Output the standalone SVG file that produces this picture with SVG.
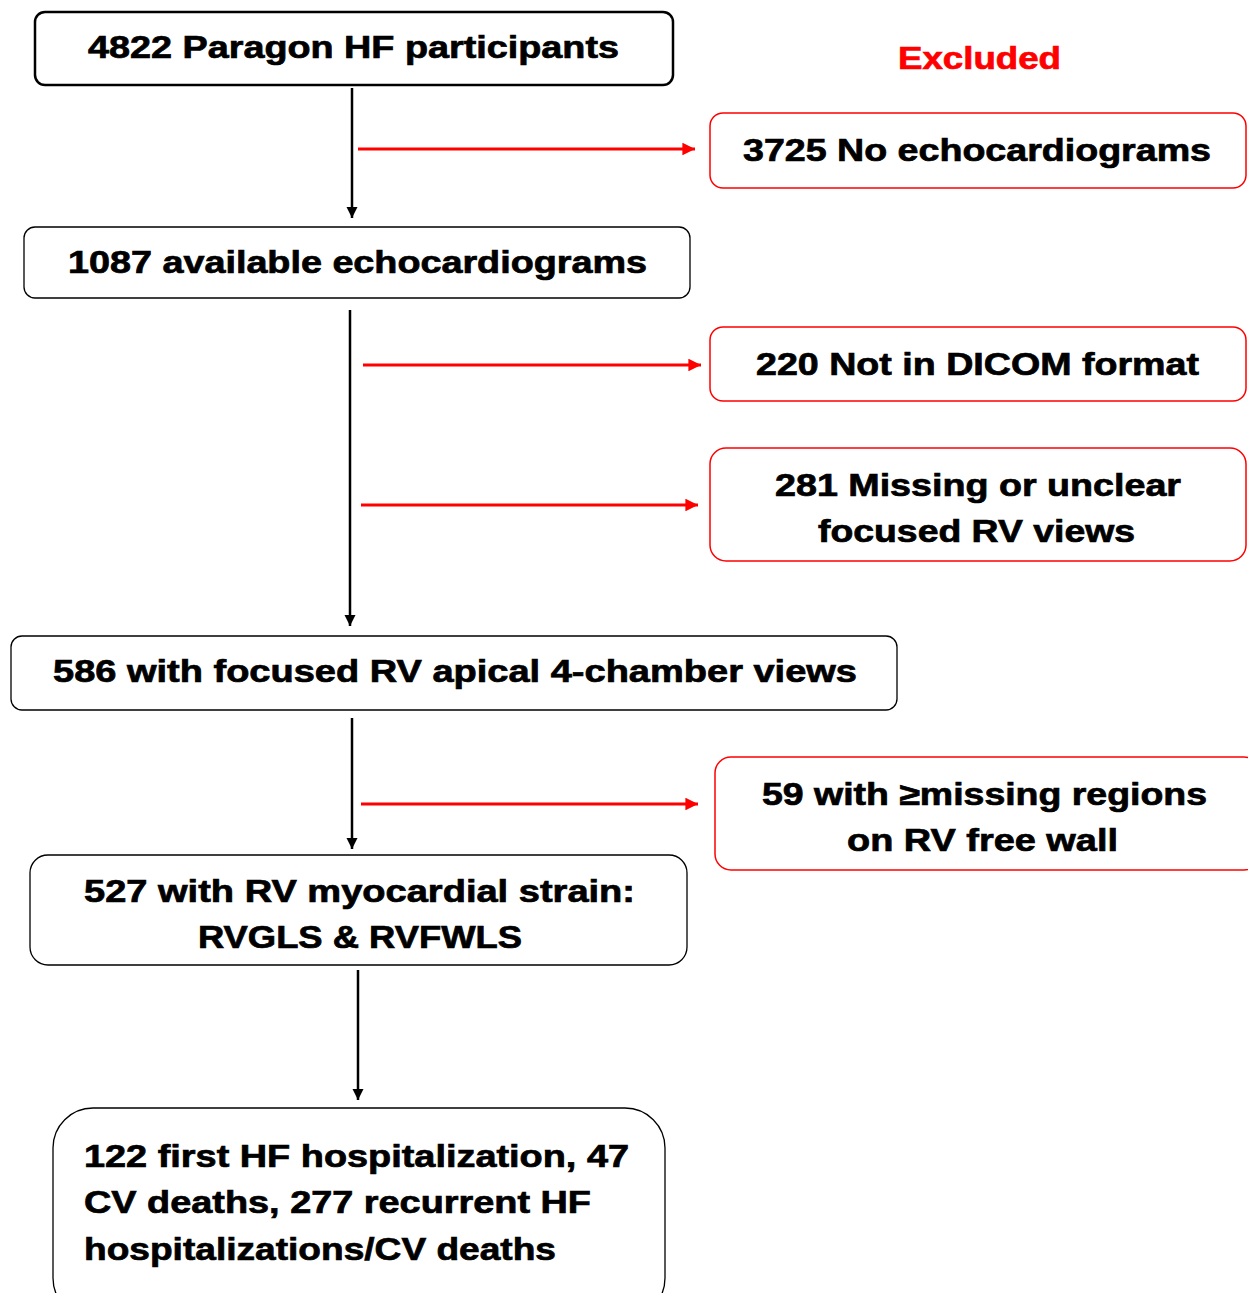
<svg xmlns="http://www.w3.org/2000/svg" width="1248" height="1293" viewBox="0 0 1248 1293">
<style>
.t{font-family:"Liberation Sans",Arial,sans-serif;font-weight:bold;font-size:31px;fill:#000;stroke:#000;stroke-width:0.7}
.nb{fill:#fff;stroke:#000;stroke-width:1.3}
.nr{fill:#fff;stroke:#f00;stroke-width:1.5}
.cb{stroke:#000;stroke-width:2.5;fill:none}
.cr{stroke:#f00;stroke-width:2.8;fill:none}
</style>
<defs>
<marker id="ab" viewBox="0 0 10 10" refX="10" refY="5" markerWidth="4.5" markerHeight="4.5" orient="auto" markerUnits="strokeWidth"><path d="M0,0L10,5L0,10z" fill="#000"/></marker>
<marker id="ar" viewBox="0 0 10 10" refX="10" refY="5" markerWidth="4.5" markerHeight="4.5" orient="auto" markerUnits="strokeWidth"><path d="M0,0L10,5L0,10z" fill="#f00"/></marker>
</defs>
<rect width="1248" height="1293" fill="#fff"/>
<g id="connectors">
<line class="cb" x1="352" y1="88" x2="352" y2="218" marker-end="url(#ab)"/>
<line class="cr" x1="358" y1="149" x2="695" y2="149" marker-end="url(#ar)"/>
<line class="cb" x1="350" y1="310" x2="350" y2="626" marker-end="url(#ab)"/>
<line class="cr" x1="363" y1="365" x2="701" y2="365" marker-end="url(#ar)"/>
<line class="cr" x1="361" y1="505" x2="698" y2="505" marker-end="url(#ar)"/>
<line class="cb" x1="352" y1="718" x2="352" y2="849" marker-end="url(#ab)"/>
<line class="cr" x1="361" y1="804" x2="698" y2="804" marker-end="url(#ar)"/>
<line class="cb" x1="358" y1="970" x2="358" y2="1100" marker-end="url(#ab)"/>
</g>
<g id="n1"><rect class="nb" x="35" y="12" width="638" height="73" rx="10" style="stroke-width:2.5"/><text class="t" x="88" y="58" textLength="531" lengthAdjust="spacingAndGlyphs">4822 Paragon HF participants</text></g>
<g id="excluded"><text class="t" x="898" y="69" textLength="163" lengthAdjust="spacingAndGlyphs" style="fill:#f00;stroke:#f00">Excluded</text></g>
<g id="n2"><rect class="nr" x="710" y="113" width="536" height="75" rx="13"/><text class="t" x="743" y="161" textLength="468" lengthAdjust="spacingAndGlyphs">3725 No echocardiograms</text></g>
<g id="n3"><rect class="nb" x="24" y="227" width="666" height="71" rx="11"/><text class="t" x="68" y="273" textLength="579" lengthAdjust="spacingAndGlyphs">1087 available echocardiograms</text></g>
<g id="n4"><rect class="nr" x="710" y="327" width="536" height="74" rx="13"/><text class="t" x="756" y="375" textLength="443" lengthAdjust="spacingAndGlyphs">220 Not in DICOM format</text></g>
<g id="n5"><rect class="nr" x="710" y="448" width="536" height="113" rx="16"/><text class="t" x="775" y="496" textLength="406" lengthAdjust="spacingAndGlyphs">281 Missing or unclear</text><text class="t" x="818" y="542" textLength="317" lengthAdjust="spacingAndGlyphs">focused RV views</text></g>
<g id="n6"><rect class="nb" x="11" y="636" width="886" height="74" rx="11"/><text class="t" x="53" y="682" textLength="804" lengthAdjust="spacingAndGlyphs">586 with focused RV apical 4-chamber views</text></g>
<g id="n7"><rect class="nr" x="715" y="757" width="545" height="113" rx="16"/><text class="t" x="762" y="805" textLength="445" lengthAdjust="spacingAndGlyphs">59 with ≥missing regions</text><text class="t" x="847" y="851" textLength="271" lengthAdjust="spacingAndGlyphs">on RV free wall</text></g>
<g id="n8"><rect class="nb" x="30" y="855" width="657" height="110" rx="18"/><text class="t" x="84" y="902" textLength="551" lengthAdjust="spacingAndGlyphs">527 with RV myocardial strain:</text><text class="t" x="198" y="948" textLength="324" lengthAdjust="spacingAndGlyphs">RVGLS &amp; RVFWLS</text></g>
<g id="n9"><rect class="nb" x="53" y="1108" width="612" height="210" rx="40"/><text class="t" x="84" y="1167" textLength="545" lengthAdjust="spacingAndGlyphs">122 first HF hospitalization, 47</text><text class="t" x="84" y="1213" textLength="507" lengthAdjust="spacingAndGlyphs">CV deaths, 277 recurrent HF</text><text class="t" x="84" y="1260" textLength="472" lengthAdjust="spacingAndGlyphs">hospitalizations/CV deaths</text></g>
</svg>
